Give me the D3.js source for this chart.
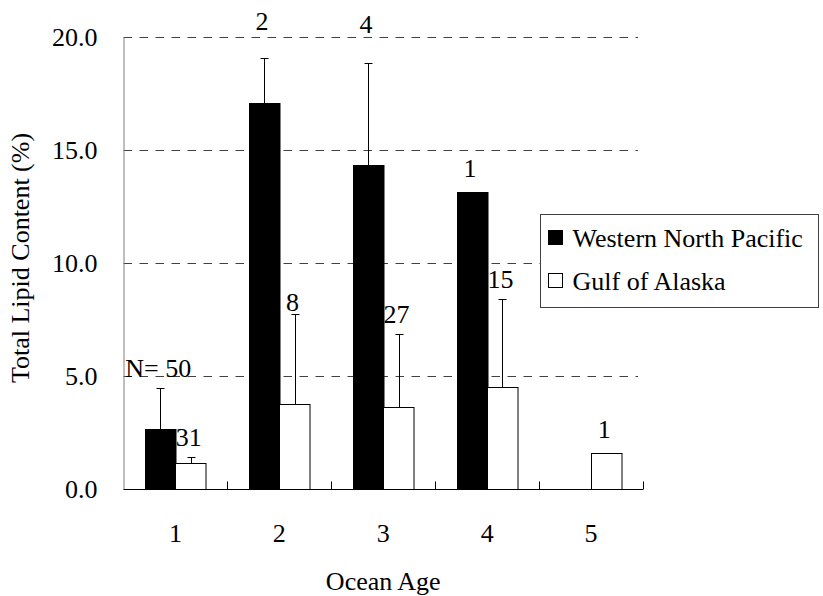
<!DOCTYPE html>
<html>
<head>
	<meta charset="utf-8">
	<title>Total Lipid Content</title>
	<script src="https://d3js.org/d3.v7.min.js"></script>
	<style>
		body {
			margin: 0;
			background: white;
		}
		text {
			font-family: "Liberation Serif", "Times New Roman", Times, serif;
		}
	</style>
</head>
<body>
	<svg id="chart" width="823" height="596" font-family="Liberation Serif, Times New Roman, serif"></svg>
	<script>
		// data
		var ages = ["1", "2", "3", "4", "5"];
		var series = ["Western North Pacific", "Gulf of Alaska"];
		var wnpMean = [2.65, 17.1, 14.35, 13.15, null];
		var wnpErr = [4.47, 19.05, 18.85, null, null];
		var wnpN = ["N= 50", "2", "4", "1", null];
		var goaMean = [1.15, 3.78, 3.65, 4.5, 1.58];
		var goaErr = [1.42, 7.75, 6.88, 8.42, 1.6];
		var goaN = ["31", "8", "27", "15", "1"];
		var yTicks = [0, 5, 10, 15, 20];

		var W = 823, H = 596;
		var m = {left: 123.5, right: 180, top: 37, bottom: 107};
		var FONT = "Liberation Serif, Times New Roman, serif";

		var svg = d3.select("#chart");

		function txt(sel) {
			return sel.attr("font-family", FONT)
				.attr("font-size", 26)
				.attr("fill", "black");
		}

		var x0 = d3.scaleBand()
			.domain(ages)
			.range([m.left, W - m.right]);
		var x1 = d3.scaleBand()
			.domain(series)
			.range([-30.5, 30.5]);
		var y = d3.scaleLinear()
			.domain([0, 20])
			.range([H - m.bottom, m.top]);

		// gridlines
		svg.append("g")
			.selectAll("line")
			.data(yTicks.filter(function(d) { return d > 0; }))
			.enter().append("line")
			.attr("x1", m.left)
			.attr("x2", W - m.right - 5)
			.attr("y1", function(d) { return Math.round(y(d)) + 0.5; })
			.attr("y2", function(d) { return Math.round(y(d)) + 0.5; })
			.attr("stroke", "#404040")
			.attr("stroke-dasharray", "8.5,7.5");

		// y axis
		var yAxis = svg.append("g")
			.attr("transform", "translate(" + m.left + ",0)")
			.call(d3.axisLeft(y).tickValues(yTicks).tickSize(0).tickPadding(26).tickFormat(d3.format(".1f")));
		yAxis.attr("font-family", FONT).attr("font-size", 26);
		yAxis.select(".domain").attr("stroke", "#808080");
		txt(yAxis.selectAll("text"));

		// rows: one per age
		var rows = ages.map(function(a, i) {
			return [
				{age: a, s: series[0], v: wnpMean[i], e: wnpErr[i], n: wnpN[i]},
				{age: a, s: series[1], v: goaMean[i], e: goaErr[i], n: goaN[i]}
			];
		});
		var flat = [].concat.apply([], rows).filter(function(d) { return d.v != null; });

		function bx(d) { return x0(d.age) + x0.bandwidth() / 2 + x1(d.s); }

		var bars = svg.append("g");
		bars.selectAll("rect")
			.data(flat)
			.enter().append("rect")
			.attr("x", function(d) { return Math.round(bx(d)) + 0.5; })
			.attr("y", function(d) { return Math.round(y(d.v)) + 0.5; })
			.attr("width", x1.bandwidth())
			.attr("height", function(d) { return Math.round(y(0)) - Math.round(y(d.v)); })
			.attr("fill", function(d) { return d.s === series[0] ? "black" : "white"; })
			.attr("stroke", "black")
			.attr("stroke-width", 1);

		// error bars
		var errs = svg.append("g").attr("stroke", "black").attr("stroke-width", 1);
		flat.filter(function(d) { return d.e != null; }).forEach(function(d) {
			var cx = Math.round(bx(d) + x1.bandwidth() / 2) + 0.5;
			var yt = Math.round(y(d.e)) + 0.5;
			errs.append("line")
				.attr("x1", cx).attr("x2", cx)
				.attr("y1", Math.round(y(d.v))).attr("y2", yt);
			errs.append("line")
				.attr("x1", cx - 4).attr("x2", cx + 4)
				.attr("y1", yt).attr("y2", yt);
		});

		// sample size labels (a few sit higher, as placed in the original)
		var lift = {"2": 28, "4": 30, "8": 3, "1": 15};
		svg.append("g").selectAll("text")
			.data(flat.filter(function(d) { return d.n; }))
			.enter().append("text")
			.attr("text-anchor", "middle")
			.attr("x", function(d) { return bx(d) + x1.bandwidth() / 2 - 2; })
			.attr("y", function(d) {
				var top = y(d.e != null ? d.e : d.v);
				return top - (lift[d.n] != null ? lift[d.n] : 11);
			})
			.text(function(d) { return d.n; })
			.call(txt);

		// x axis
		var base = Math.round(y(0)) + 0.5;
		svg.append("line")
			.attr("x1", m.left).attr("x2", W - m.right)
			.attr("y1", base).attr("y2", base)
			.attr("stroke", "black");
		svg.append("g").selectAll("line")
			.data(ages)
			.enter().append("line")
			.attr("x1", function(d) { return Math.round(x0(d) + x0.bandwidth()) + 0.5; })
			.attr("x2", function(d) { return Math.round(x0(d) + x0.bandwidth()) + 0.5; })
			.attr("y1", base).attr("y2", base - 8)
			.attr("stroke", "black");
		svg.append("g").selectAll("text")
			.data(ages)
			.enter().append("text")
			.attr("text-anchor", "middle")
			.attr("x", function(d) { return x0(d) + x0.bandwidth() / 2; })
			.attr("y", 542)
			.text(function(d) { return d; })
			.call(txt);

		// axis titles
		svg.append("text")
			.attr("text-anchor", "middle")
			.attr("x", (m.left + W - m.right) / 2)
			.attr("y", 590)
			.text("Ocean Age")
			.call(txt);
		svg.append("text")
			.attr("text-anchor", "middle")
			.attr("transform", "translate(29,258) rotate(-90)")
			.text("Total Lipid Content (%)")
			.call(txt);

		// legend
		var lg = svg.append("g").attr("transform", "translate(540.5,214.5)");
		lg.append("rect")
			.attr("width", 278).attr("height", 93)
			.attr("fill", "white").attr("stroke", "#404040");
		series.forEach(function(s, i) {
			lg.append("rect")
				.attr("x", 8).attr("y", 16 + i * 43)
				.attr("width", 14).attr("height", 14)
				.attr("fill", i === 0 ? "black" : "white")
				.attr("stroke", "black");
			lg.append("text")
				.attr("x", 32).attr("y", 32 + i * 43)
				.text(s)
				.call(txt);
		});
	</script>
</body>
</html>
